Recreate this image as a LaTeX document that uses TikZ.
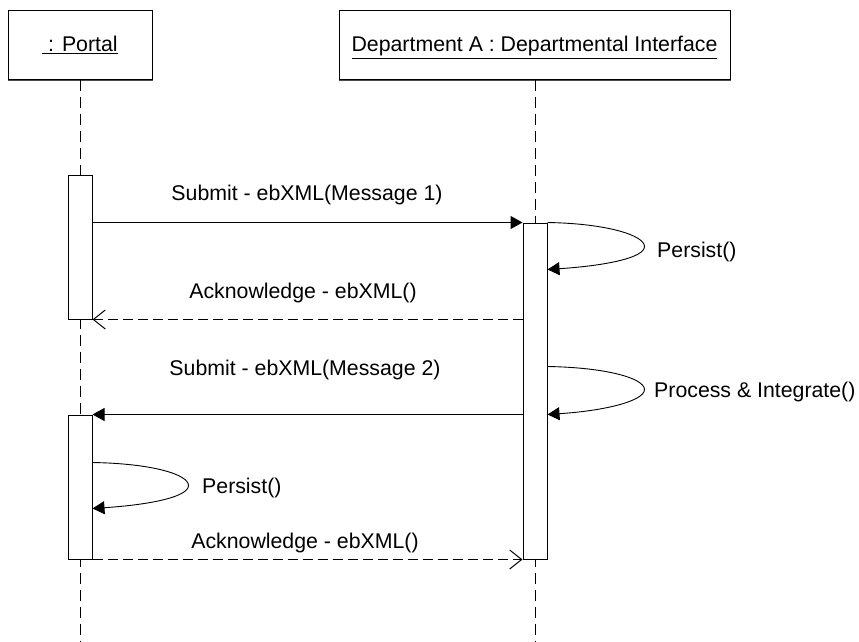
\documentclass[tikz,border=0pt]{standalone}
\usepackage{fontspec}
\setmainfont{Liberation Sans}
\usetikzlibrary{arrows.meta,calc}
\begin{document}
\begin{tikzpicture}[x=1pt,y=-1pt,
  every node/.style={font=\fontsize{21.3}{25}\selectfont},
  objbox/.style={draw, line width=1pt, minimum height=68pt, inner sep=0pt},
  actbar/.style={draw, fill=white, line width=1pt, minimum width=24pt, inner sep=0pt},
  lifeline/.style={line width=1pt, dash pattern=on 11pt off 6pt},
  call/.style={line width=1pt, -{Triangle[length=12pt,width=13pt]}},
  reply/.style={line width=1pt, dash pattern=on 10pt off 5pt, -{Straight Barb[length=12pt,width=19pt,line width=1pt]}},
  selfcall/.style={line width=0.9pt, -{Triangle[length=12pt,width=13pt]}},
  lbl/.style={anchor=base, inner sep=0pt},
  lblw/.style={anchor=base west, inner sep=0pt}]
\useasboundingbox (0,0) rectangle (859,642);
% headers
\node[objbox, minimum width=144pt] (p) at (80,45) {};
\node[objbox, minimum width=391pt] (d) at (534.5,45) {};
\draw[black!70, line width=1pt] ($(p.south west)+(0,0.8)$) -- ($(p.south east)+(0,0.8)$);
\draw[black!70, line width=1pt] ($(d.south west)+(0,0.8)$) -- ($(d.south east)+(0,0.8)$);
\node[lbl] (pt) at (80,52) {\underline{\ : Portal}};
\node[lbl] (dt) at (534.5,52) {\underline{Department A : Departmental Interface}};
% lifeline ends
\coordinate (pEnd) at (80,642);
\coordinate (dEnd) at (535,642);
\draw[lifeline] (p.south) -- (pEnd);
\draw[lifeline] (d.south -| dEnd) -- (dEnd);
% activation bars
\node[actbar, minimum height=144pt] (pa1) at (80,247) {};
\node[actbar, minimum height=336pt] (da) at (535,391) {};
\node[actbar, minimum height=144pt] (pa2) at (80,487) {};
% anchor coordinates
\coordinate (m1s) at (pa1.east |- da.north);
\coordinate (a1s) at (da.west |- pa1.south);
\coordinate (m2s) at (da.west |- pa2.north);
\coordinate (s1a) at (da.north east);
\coordinate (s1t) at ($(da.north east)+(97,24)$);
\coordinate (s1b) at ($(da.north east)+(0,47)$);
\coordinate (s2a) at ($(da.north east)+(0,144)$);
\coordinate (s2t) at ($(da.north east)+(97,167)$);
\coordinate (s2b) at ($(da.north east)+(0,192)$);
\coordinate (s3a) at ($(pa2.north east)+(0,48)$);
\coordinate (s3t) at ($(pa2.north east)+(96,71)$);
\coordinate (s3b) at ($(pa2.north east)+(0,94)$);
% messages
\draw[call] (m1s) -- (da.north west);
\draw[reply] (a1s) -- (pa1.south east);
\draw[call] (m2s) -- (pa2.north east);
\draw[reply] (pa2.south east) -- (da.south west);
% self calls
\draw[selfcall] (s1a) .. controls +(60,1) and +(0,-11) .. (s1t) .. controls +(0,11) and +(60,-4) .. (s1b);
\draw[selfcall] (s2a) .. controls +(60,1) and +(0,-11) .. (s2t) .. controls +(0,11) and +(60,-4) .. (s2b);
\draw[selfcall] (s3a) .. controls +(60,1) and +(0,-11) .. (s3t) .. controls +(0,11) and +(60,-4) .. (s3b);
% labels
\node[lbl] (l1) at (307,200.5) {Submit - ebXML(Message 1)};
\node[lbl] (l2) at (303,298) {Acknowledge - ebXML()};
\node[lbl] (l3) at (305,375.5) {Submit - ebXML(Message 2)};
\node[lbl] (l4) at (305,548) {Acknowledge - ebXML()};
\node[lblw] (l5) at (657,257) {Persist()};
\node[lblw] (l6) at (654,397) {Process \& Integrate()};
\node[lblw] (l7) at (202,493) {Persist()};
\end{tikzpicture}
\end{document}
